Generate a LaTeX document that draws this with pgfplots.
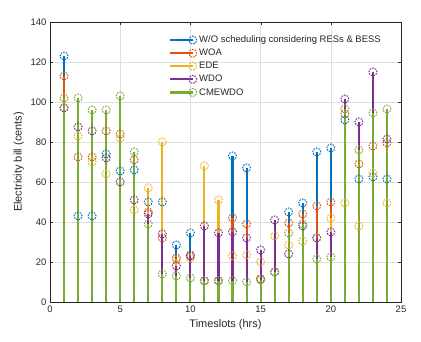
\documentclass[border=0pt]{standalone}
\usepackage{fontspec}
\setmainfont{Liberation Sans}
\usepackage{pgfplots}
\pgfplotsset{compat=1.18}
\usepackage{pgfplotstable}

\definecolor{mblue}{rgb}{0,0.447,0.741}
\definecolor{morange}{rgb}{0.850,0.325,0.098}
\definecolor{myellow}{rgb}{0.929,0.694,0.125}
\definecolor{mpurple}{rgb}{0.494,0.184,0.556}
\definecolor{mgreen}{rgb}{0.466,0.674,0.188}
\definecolor{axgray}{rgb}{0.15,0.15,0.15}

% electricity bill per timeslot (cents)
\pgfplotstableread{
x   wo     woa    ede    wdo    cme
1   123    113    97     97     102
2   43     72.5   83     87.5   102
3   43     72.5   70     85.5   96
4   74     85.5   64     72     96
5   65.5   84     82     60     103
6   66     71     46     51     75
7   50     45     57     44     39
8   50     32     80     34     14
9   28.5   22     21     18     13
10  34.5   23.5   22     23     12
11  10.6   10.6   68     38     10.6
12  10.6   10.6   51     34.5   10.6
13  73     42     23     35     10.6
14  67     39     23.5   32     10
15  11.5   11.5   20     26     11
16  15     15     33     41     15
17  45     39.5   28.5   24     34.5
18  49.5   44     30.5   38     39
19  75     48     32     32     21.5
20  77     50     42     35     22.5
21  91     94     49.5   101.5  96.5
22  61.5   69     38     90     76
23  62.5   78     64.5   115    94.5
24  61.5   79.5   49.5   81.5   96.5
}\bills

\begin{document}
\begin{tikzpicture}
\pgfplotsset{
  stick/.style={color=#1, ycomb, no markers, line width=2.1bp, forget plot},
  head/.style={color=#1, only marks, mark=o, mark size=4bp,
    line width=1bp, dash pattern=on 1.6bp off 1.1bp,
    legend image code/.code={
      \draw[color=#1, solid, line width=2.1bp] (0cm,0cm) -- (0.8cm,0cm);
      \draw[color=#1, line width=1bp, dash pattern=on 1.6bp off 1.1bp]
        (0.8cm,0cm) circle[radius=4bp];}},
}
\begin{axis}[
    name=ax, scale only axis, width=351bp, height=280bp,
    xmin=0, xmax=25, ymin=0, ymax=140,
    xtick={0,5,...,25}, ytick={0,20,...,140},
    grid=major, major grid style={black!12, line width=0.5pt},
    tick align=inside, major tick length=3bp,
    axis line style={axgray, line width=0.5pt}, tick style={axgray},
    xlabel={Timeslots (hrs)}, ylabel={Electricity bill (cents)},
    label style={font=\fontsize{11}{13}\selectfont, text=axgray},
    ticklabel style={font=\fontsize{9.5}{11}\selectfont, text=axgray},
    /pgf/number format/assume math mode=true,
    legend style={draw=none, fill=none, at={(0.33,0.965)}, anchor=north west,
      font=\fontsize{9.5}{11}\selectfont, text=axgray, row sep=1pt},
    legend cell align=left,
]
\addplot[stick=mblue] table[x=x, y=wo] {\bills};
\addplot[head=mblue] table[x=x, y=wo] {\bills};
\addlegendentry{W/O scheduling considering RESs \& BESS}
\addplot[stick=morange] table[x=x, y=woa] {\bills};
\addplot[head=morange] table[x=x, y=woa] {\bills};
\addlegendentry{WOA}
\addplot[stick=myellow] table[x=x, y=ede] {\bills};
\addplot[head=myellow] table[x=x, y=ede] {\bills};
\addlegendentry{EDE}
\addplot[stick=mpurple] table[x=x, y=wdo] {\bills};
\addplot[head=mpurple] table[x=x, y=wdo] {\bills};
\addlegendentry{WDO}
\addplot[stick=mgreen] table[x=x, y=cme] {\bills};
\addplot[head=mgreen] table[x=x, y=cme] {\bills};
\addlegendentry{CMEWDO}
\end{axis}
\path ([shift={(-50bp,-40bp)}]ax.south west) rectangle ([shift={(20bp,22bp)}]ax.north east);
\end{tikzpicture}
\end{document}
